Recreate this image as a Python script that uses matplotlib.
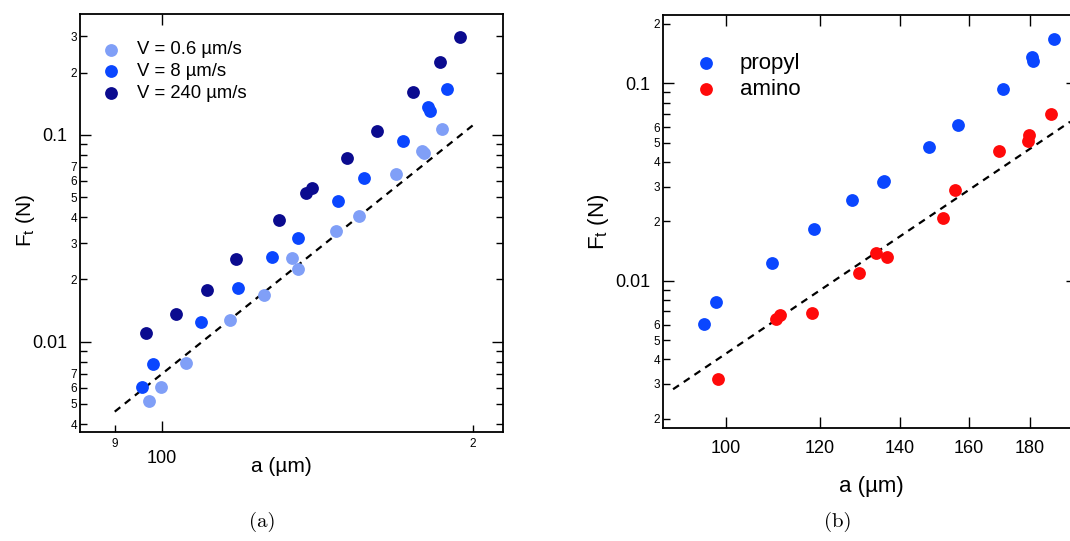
import matplotlib
matplotlib.use("Agg")
import matplotlib.pyplot as plt
from matplotlib.ticker import FixedLocator, FixedFormatter

plt.rcParams['font.family'] = ['Liberation Sans', 'DejaVu Sans']
plt.rcParams['mathtext.default'] = 'regular'

# ---------------- data: panel (a) ----------------
a_slow = [97.1, 99.7, 105.6, 116.5, 125.6, 133.6, 135.3, 147.3, 155.0, 168.5, 178.4, 179.2, 186.6]
F_slow = [0.00515, 0.00604, 0.00791, 0.01269, 0.01683, 0.0254, 0.02255, 0.0342, 0.0406, 0.0648, 0.0840, 0.0816, 0.1073]

a_mid = [95.6, 98.0, 109.2, 118.5, 127.7, 135.5, 148.2, 156.8, 171.2, 181.0, 181.6, 188.7]
F_mid = [0.00604, 0.00782, 0.01241, 0.01825, 0.0256, 0.0316, 0.0478, 0.0617, 0.0935, 0.1361, 0.1302, 0.1675]

a_fast = [96.6, 103.2, 110.5, 118.0, 129.7, 137.8, 139.6, 151.0, 161.4, 175.0, 185.8, 194.5]
F_fast = [0.01101, 0.01357, 0.01778, 0.0251, 0.0387, 0.0522, 0.0556, 0.0772, 0.1046, 0.1620, 0.2263, 0.2989]

a_fit_a = [90.0, 200.0]
F_fit_a = [0.00459, 0.1114]

labels_a = ['V = 0.6 µm/s', 'V = 8 µm/s', 'V = 240 µm/s']

# ---------------- data: panel (b) ----------------
a_propyl = [95.8, 98.2, 109.4, 118.6, 127.6, 135.4, 135.7, 148.1, 156.6, 170.8, 180.7, 181.3, 188.6]
F_propyl = [0.00603, 0.00779, 0.01232, 0.01826, 0.0256, 0.0316, 0.0322, 0.0477, 0.0615, 0.0936, 0.1354, 0.1297, 0.1677]

a_amino = [98.5, 110.2, 111.1, 118.1, 129.3, 133.6, 136.7, 152.3, 155.8, 169.6, 179.5, 179.7, 187.5]
F_amino = [0.00317, 0.00639, 0.00672, 0.00688, 0.01093, 0.0139, 0.01312, 0.02077, 0.0289, 0.0452, 0.0510, 0.0549, 0.0696]

a_fit_b = [90.3, 194.6]
F_fit_b = [0.00282, 0.0639]

labels_b = ['propyl', 'amino']

# ---------------- tick definitions ----------------
xa_major = [100]
xa_major_lab = ['100']
xa_minor = [90, 200]
xa_minor_lab = ['9', '2']

ya_major = [0.01, 0.1]
ya_major_lab = ['0.01', '0.1']
ya_minor = [0.004, 0.005, 0.006, 0.007, 0.008, 0.009,
            0.02, 0.03, 0.04, 0.05, 0.06, 0.07, 0.08, 0.09, 0.2, 0.3]
ya_minor_lab = ['4', '5', '6', '7', '', '',
                '2', '3', '4', '5', '6', '7', '', '', '2', '3']

xb_major = [100, 120, 140, 160, 180]
xb_major_lab = ['100', '120', '140', '160', '180']

yb_major = [0.01, 0.1]
yb_major_lab = ['0.01', '0.1']
yb_minor = [0.002, 0.003, 0.004, 0.005, 0.006, 0.007, 0.008, 0.009,
            0.02, 0.03, 0.04, 0.05, 0.06, 0.07, 0.08, 0.09, 0.2]
yb_minor_lab = ['2', '3', '4', '5', '6', '', '', '',
                '2', '3', '4', '5', '6', '', '', '', '2']

c_light = '#809FF7'
c_mid = '#0A46FF'
c_navy = '#0B0B8F'
c_red = '#FF0A0A'
ms = 85

fig = plt.figure(figsize=(10.7, 5.41), dpi=100)
ax1 = fig.add_axes([0.0748, 0.2015, 0.3953, 0.7726])
ax2 = fig.add_axes([0.6193, 0.2094, 0.3872, 0.7634])


def style(ax):
    ax.set_xscale('log')
    ax.set_yscale('log')
    for s in ax.spines.values():
        s.set_linewidth(1.3)
    ax.tick_params(which='both', direction='in', top=True, right=True, width=1.0)
    ax.tick_params(which='major', length=8, labelsize=13)
    ax.tick_params(which='minor', length=5, labelsize=8.5)


# ---- panel (a)
style(ax1)
ax1.plot(a_fit_a, F_fit_a, ls=(0, (3.2, 2.6)), color='black', lw=1.6, zorder=2)
ax1.scatter(a_slow, F_slow, s=ms, color=c_light, linewidths=0, label=labels_a[0], zorder=3)
ax1.scatter(a_mid, F_mid, s=ms, color=c_mid, linewidths=0, label=labels_a[1], zorder=3)
ax1.scatter(a_fast, F_fast, s=ms, color=c_navy, linewidths=0, label=labels_a[2], zorder=3)
ax1.set_xlim(83.3, 213.9)
ax1.set_ylim(0.00366, 0.3846)
ax1.xaxis.set_major_locator(FixedLocator(xa_major))
ax1.xaxis.set_major_formatter(FixedFormatter(xa_major_lab))
ax1.xaxis.set_minor_locator(FixedLocator(xa_minor))
ax1.xaxis.set_minor_formatter(FixedFormatter(xa_minor_lab))
ax1.yaxis.set_major_locator(FixedLocator(ya_major))
ax1.yaxis.set_major_formatter(FixedFormatter(ya_major_lab))
ax1.yaxis.set_minor_locator(FixedLocator(ya_minor))
ax1.yaxis.set_minor_formatter(FixedFormatter(ya_minor_lab))
ax1.tick_params(axis='x', which='minor', top=False, pad=4)
ax1.tick_params(axis='x', which='major', pad=13)
ax1.tick_params(axis='y', which='major', pad=9)
ax1.tick_params(axis='y', which='minor', pad=2)
ax1.set_xlabel('a (µm)', fontsize=15, va='center')
ax1.xaxis.set_label_coords(0.475, -0.083)
ax1.set_ylabel('F$_t$ (N)', fontsize=15, va='center')
ax1.yaxis.set_label_coords(-0.130, 0.507)
ax1.legend(loc='upper left', bbox_to_anchor=(0.0335, 0.952), frameon=False, fontsize=13.3,
           handlelength=1.0, handletextpad=0.9, labelspacing=0.25, borderaxespad=0)

# ---- panel (b)
style(ax2)
ax2.plot(a_fit_b, F_fit_b, ls=(0, (3.2, 2.6)), color='black', lw=1.6, zorder=2)
ax2.scatter(a_propyl, F_propyl, s=ms, color=c_mid, linewidths=0, label=labels_b[0], zorder=3)
ax2.scatter(a_amino, F_amino, s=ms, color=c_red, linewidths=0, label=labels_b[1], zorder=3)
ax2.set_xlim(88.5, 197.2)
ax2.set_ylim(0.0018, 0.2228)
ax2.xaxis.set_major_locator(FixedLocator(xb_major))
ax2.xaxis.set_major_formatter(FixedFormatter(xb_major_lab))
ax2.xaxis.set_minor_locator(FixedLocator([]))
ax2.yaxis.set_major_locator(FixedLocator(yb_major))
ax2.yaxis.set_major_formatter(FixedFormatter(yb_major_lab))
ax2.yaxis.set_minor_locator(FixedLocator(yb_minor))
ax2.yaxis.set_minor_formatter(FixedFormatter(yb_minor_lab))
ax2.tick_params(axis='x', which='major', pad=9)
ax2.tick_params(axis='y', which='major', pad=9)
ax2.tick_params(axis='y', which='minor', pad=2)
ax2.set_xlabel('a (µm)', fontsize=16, va='center')
ax2.xaxis.set_label_coords(0.503, -0.143)
ax2.set_ylabel('F$_t$ (N)', fontsize=16, va='center')
ax2.yaxis.set_label_coords(-0.156, 0.498)
ax2.legend(loc='upper left', bbox_to_anchor=(0.057, 0.93), frameon=False, fontsize=16,
           handlelength=1.0, handletextpad=1.0, labelspacing=0.23, borderaxespad=0)

fig.text(262 / 1070, 1 - 522 / 541, '(a)', family='cmr10', fontsize=15, ha='center', va='center')
fig.text(838 / 1070, 1 - 522 / 541, '(b)', family='cmr10', fontsize=15, ha='center', va='center')

fig.savefig('out.png', dpi=100)
